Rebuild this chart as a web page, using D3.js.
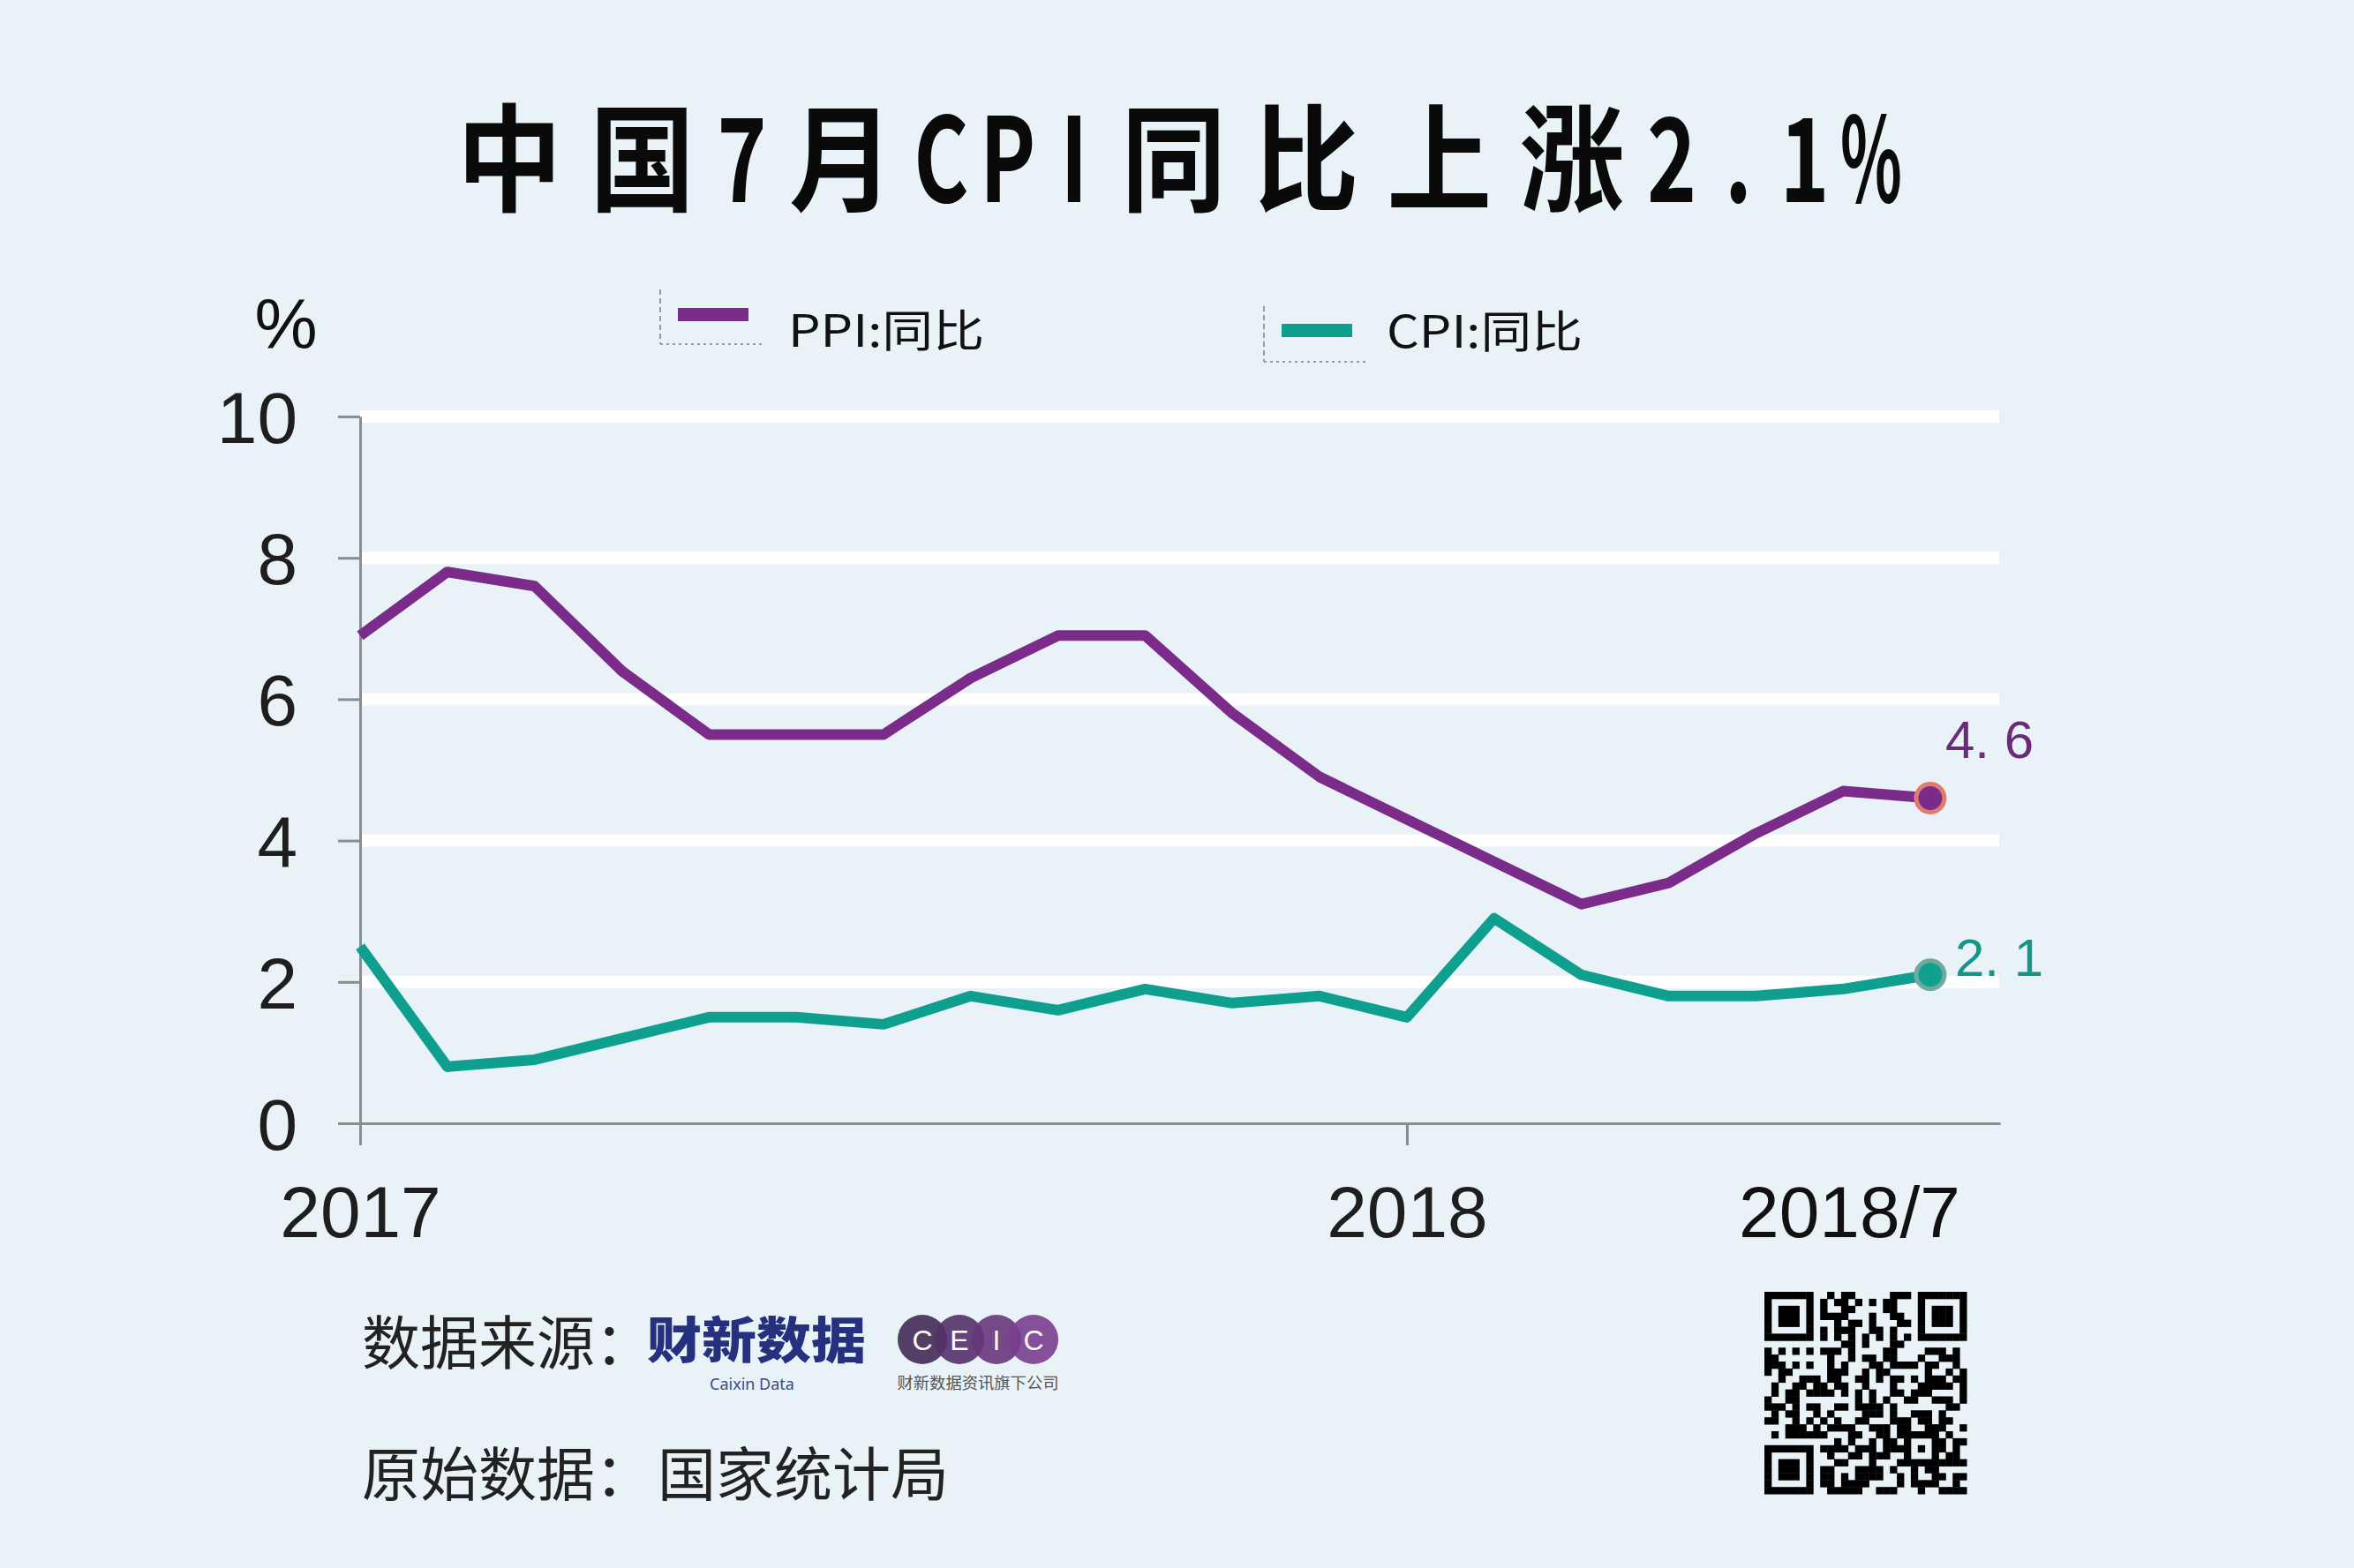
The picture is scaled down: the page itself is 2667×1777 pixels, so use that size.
<!DOCTYPE html>
<html>
<head>
<meta charset="utf-8">
<script src="https://cdn.jsdelivr.net/npm/d3@7"></script>
<style>
  html, body { margin: 0; padding: 0; background: #E9F2F6; }
  svg { display: block; }
</style>
</head>
<body>
<svg id="chart" width="2667" height="1777"></svg>
<script>
// ---------------- data ----------------
const months = ["2017/1","2017/2","2017/3","2017/4","2017/5","2017/6","2017/7","2017/8","2017/9","2017/10","2017/11","2017/12",
                "2018/1","2018/2","2018/3","2018/4","2018/5","2018/6","2018/7"];
const ppi = [6.9,7.8,7.6,6.4,5.5,5.5,5.5,6.3,6.9,6.9,5.8,4.9,4.3,3.7,3.1,3.4,4.1,4.7,4.6];
const cpi = [2.5,0.8,0.9,1.2,1.5,1.5,1.4,1.8,1.6,1.9,1.7,1.8,1.5,2.9,2.1,1.8,1.8,1.9,2.1];
const yTicks = [0,2,4,6,8,10];
const gridValues = [2,4,6,8,10];
const xTickIndex = [0,12];
const xTickLabels = ["2017","2018"];
const endLabel = "2018/7";
const seriesNames = ["PPI:同比","CPI:同比"];
const titleText = "中国7月CPI同比上涨2.1%";
const yUnit = "%";

// ---------------- styles ----------------
const C_BG = "#E9F2F6";
const C_PPI = "#7B2C8B";
const C_CPI = "#0E9F8F";
const C_AXIS = "#8A8C8E";
const CJK = "'Noto Sans CJK SC','Noto Sans',sans-serif";
const LAT = "'Liberation Sans','DejaVu Sans',sans-serif";

const svg = d3.select("#chart");
svg.append("rect").attr("width",2667).attr("height",1777).attr("fill",C_BG);

// ---------------- title (monospace-like CJK layout, condensed glyphs) ----------------
{
  const em = 150.5;
  let cx = 502;
  const g = svg.append("g");
  for (const ch of titleText) {
    const ascii = /[\x00-\x7f]/.test(ch);
    const w = ascii ? em/2 : em;
    const sx = ascii ? (ch === "%" ? 0.55 : 0.72) : 0.9;
    g.append("text")
      .attr("transform", `translate(${cx + w/2},229) scale(${sx},1)`)
      .attr("text-anchor","middle")
      .attr("font-family", CJK).attr("font-weight", 700)
      .attr("font-size", 132).attr("fill", "#0a0a0a")
      .text(ch);
    cx += w;
  }
}

// ---------------- scales ----------------
const x = d3.scaleLinear().domain([0, 18.8]).range([408, 2266]);
const y = d3.scaleLinear().domain([0, 10]).range([1273, 472]);

// gridlines
svg.append("g").selectAll("line").data(gridValues).join("line")
  .attr("x1", x(0)).attr("x2", x(18.8) - 1)
  .attr("y1", d => y(d)).attr("y2", d => y(d))
  .attr("stroke", "#FFFFFF").attr("stroke-width", 14);

// y axis
const yAxis = svg.append("g").attr("transform", `translate(${x(0)},0)`)
  .call(d3.axisLeft(y).tickValues(yTicks).tickSize(25).tickSizeOuter(0).tickPadding(46).tickFormat(d3.format("d")));
yAxis.select(".domain").attr("stroke", C_AXIS).attr("stroke-width", 3);
yAxis.selectAll(".tick line").attr("stroke", C_AXIS).attr("stroke-width", 3);
yAxis.selectAll(".tick text").attr("font-family", LAT).attr("font-size", 82).attr("fill", "#1e1e1e").attr("dy", "0.36em");

// x axis
const xAxis = svg.append("g").attr("transform", `translate(0,${y(0)})`)
  .call(d3.axisBottom(x).tickValues(xTickIndex).tickSize(25).tickSizeOuter(0)
    .tickFormat((d,i) => xTickLabels[i]));
xAxis.select(".domain").attr("stroke", C_AXIS).attr("stroke-width", 3);
xAxis.selectAll(".tick line").attr("stroke", C_AXIS).attr("stroke-width", 3);
xAxis.selectAll(".tick text").attr("font-family", LAT).attr("font-size", 82).attr("fill", "#1e1e1e")
  .attr("y", 129).attr("dy", 0);
svg.append("text").attr("x", x(months.length - 1) + 34).attr("y", y(0) + 129)
  .attr("text-anchor", "end").attr("font-family", LAT).attr("font-size", 82).attr("fill", "#111")
  .text(endLabel);

// unit label
svg.append("text").attr("x", 324).attr("y", 395).attr("text-anchor","middle")
  .attr("font-family", LAT).attr("font-size", 80).attr("fill", "#111").text(yUnit);

// ---------------- lines ----------------
const line = d3.line().x((d,i) => x(i)).y(d => y(d));
svg.append("path").datum(ppi).attr("d", line).attr("fill","none")
  .attr("stroke", C_PPI).attr("stroke-width", 12).attr("stroke-linejoin","round");
svg.append("path").datum(cpi).attr("d", line).attr("fill","none")
  .attr("stroke", C_CPI).attr("stroke-width", 12).attr("stroke-linejoin","round");

// end markers
const last = months.length - 1;
svg.append("circle").attr("cx", x(last)).attr("cy", y(ppi[last])).attr("r", 16)
  .attr("fill", C_PPI).attr("stroke", "#E07B70").attr("stroke-width", 5);
svg.append("circle").attr("cx", x(last)).attr("cy", y(cpi[last])).attr("r", 16)
  .attr("fill", "#10A08E").attr("stroke", "#74A89F").attr("stroke-width", 5);

const fmtLabel = v => String(v).replace(".", ". ");
svg.append("text").attr("x", x(last) + 17).attr("y", y(ppi[last]) - 46)
  .attr("font-family", LAT).attr("font-size", 60).attr("fill", "#6B2A7C").text(fmtLabel(ppi[last]));
svg.append("text").attr("x", x(last) + 28).attr("y", y(cpi[last]) + 1)
  .attr("font-family", LAT).attr("font-size", 60).attr("fill", "#14978A").text(fmtLabel(cpi[last]));

// ---------------- legend ----------------
const legendItems = [
  {name: seriesNames[0], color: C_PPI, bx: 748, by0: 328, by1: 390, sx: 768, sy: 349, tx: 893, ty: 371},
  {name: seriesNames[1], color: C_CPI, bx: 1432, by0: 347, by1: 410, sx: 1452, sy: 367, tx: 1571, ty: 372}
];
const lg = svg.append("g");
legendItems.forEach(it => {
  lg.append("line").attr("x1", it.bx).attr("x2", it.bx).attr("y1", it.by0).attr("y2", it.by1)
    .attr("stroke", "#9A9A9A").attr("stroke-width", 2).attr("stroke-dasharray", "6,4");
  lg.append("line").attr("x1", it.bx).attr("x2", it.bx + 115).attr("y1", it.by1).attr("y2", it.by1)
    .attr("stroke", "#9A9A9A").attr("stroke-width", 2).attr("stroke-dasharray", "3,4");
  lg.append("rect").attr("x", it.sx).attr("y", it.sy).attr("width", 80).attr("height", 15).attr("fill", it.color);
  lg.append("text").attr("x", it.tx).attr("y", it.ty).attr("dominant-baseline","central")
    .attr("font-family", CJK).attr("font-size", 50).attr("fill", "#111")
    .attr("textLength", 222).attr("lengthAdjust", "spacingAndGlyphs").text(it.name);
});

// ---------------- footer ----------------
const footText = {x: 410, size: 66, fill: "#222"};
svg.append("text").attr("x", footText.x).attr("y", 1517).attr("dominant-baseline","central")
  .attr("font-family", CJK).attr("font-size", footText.size).attr("fill", footText.fill).text("数据来源：");
svg.append("text").attr("x", footText.x).attr("y", 1666).attr("dominant-baseline","central")
  .attr("font-family", CJK).attr("font-size", footText.size).attr("fill", footText.fill).text("原始数据：");
svg.append("text").attr("x", 745).attr("y", 1666).attr("dominant-baseline","central")
  .attr("font-family", CJK).attr("font-size", footText.size).attr("fill", footText.fill).text("国家统计局");

// Caixin Data logo
svg.append("text").attr("transform", "translate(733,1514) scale(1,1.12)").attr("dominant-baseline","central")
  .attr("font-family", CJK).attr("font-weight", 900).attr("font-size", 50).attr("fill", "#25307E")
  .attr("textLength", 248).attr("lengthAdjust","spacingAndGlyphs").text("财新数据");
svg.append("text").attr("x", 852).attr("y", 1575).attr("text-anchor","middle")
  .attr("font-family", "'Noto Sans',sans-serif").attr("font-size", 18).attr("fill", "#3B4A8A").text("Caixin Data");

// CEIC logo
const ceicLetters = ["C","E","I","C"];
const ceicColors = ["#432A55","#55306A","#68357C","#7B3D8F"];
const cg = svg.append("g");
ceicLetters.forEach((l, i) => {
  cg.append("circle").attr("cx", 1045 + i*42).attr("cy", 1518).attr("r", 28)
    .attr("fill", ceicColors[i]).attr("fill-opacity", 0.9);
});
ceicLetters.forEach((l, i) => {
  cg.append("text").attr("x", 1045 + i*42).attr("y", 1519).attr("text-anchor","middle").attr("dominant-baseline","central")
    .attr("font-family", LAT).attr("font-size", 32).attr("fill", "#FFFFFF").text(l);
});
svg.append("text").attr("x", 1108).attr("y", 1566).attr("text-anchor","middle").attr("dominant-baseline","central")
  .attr("font-family", CJK).attr("font-size", 18).attr("fill", "#555")
  .attr("textLength", 183).attr("lengthAdjust","spacingAndGlyphs").text("财新数据资讯旗下公司");

// QR-like decoration
{
  const N = 29, ox = 1999, oy = 1464, m = 7.9;
  const qg = svg.append("g");
  const cells = [];
  const inFinder = (r,c) => (r < 8 && c < 8) || (r < 8 && c >= N-8) || (r >= N-8 && c < 8);
  let s = 12345;
  const next = () => { s ^= s << 13; s ^= s >>> 17; s ^= s << 5; return (s >>> 0) / 4294967296; };
  for (let r = 0; r < N; r++) for (let c = 0; c < N; c++) {
    let on;
    if (inFinder(r,c)) {
      const rr = r < 8 ? r : r - (N-7), cc = c < 8 ? c : c - (N-7);
      if (rr < 0 || cc < 0 || rr > 6 || cc > 6) on = false;
      else on = rr === 0 || rr === 6 || cc === 0 || cc === 6 || (rr >= 2 && rr <= 4 && cc >= 2 && cc <= 4);
    } else if (r >= 20 && r <= 24 && c >= 20 && c <= 24) {
      const rr = r - 20, cc = c - 20;
      on = rr === 0 || rr === 4 || cc === 0 || cc === 4 || (rr === 2 && cc === 2);
    } else if (r === 6) on = c % 2 === 0;
    else if (c === 6) on = r % 2 === 0;
    else on = next() < 0.5;
    if (on) cells.push([r,c]);
  }
  qg.selectAll("rect").data(cells).join("rect")
    .attr("x", d => ox + d[1]*m).attr("y", d => oy + d[0]*m)
    .attr("width", m + 0.4).attr("height", m + 0.4).attr("fill", "#000");
}
</script>
</body>
</html>
